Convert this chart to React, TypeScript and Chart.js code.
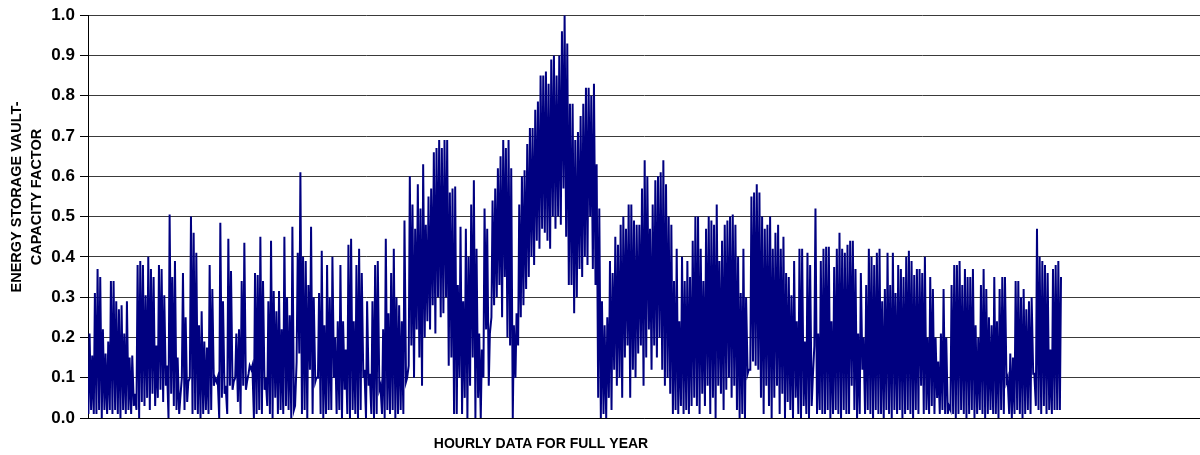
import { useEffect, useRef } from 'react';
import { Chart, registerables } from 'chart.js';

Chart.register(...registerables);

// Daily peak and overnight trough of the hourly capacity factor,
// grouped in ~46-day blocks through the year.
const peaksA = [0.21,0.155,0.31,0.37,0.35,0.22,0.16,0.19,0.34,0.34,0.29,0.27,0.28,0.21,0.29,0.15,0.155,0.06,0.38,0.39,0.38,0.305,0.40,0.37,0.35,0.18,0.38,0.37,0.305,0.13,0.505,0.35,0.39,0.15,0.05,0.36,0.25,0.09,0.50,0.46,0.41,0.23,0.265,0.19,0.175];
const troughsA = [0.01,0.02,0.01,0.01,0.02,0.0,0.02,0.01,0.02,0.01,0.02,0.01,0.0,0.02,0.01,0.02,0.01,0.03,0.02,0.0,0.04,0.03,0.05,0.02,0.06,0.03,0.05,0.07,0.04,0.08,0.0,0.06,0.03,0.02,0.01,0.10,0.02,0.04,0.1,0.01,0.02,0.01,0.0,0.01,0.02];

const peaksB = [0.38,0.32,0.10,0.10,0.485,0.29,0.08,0.445,0.365,0.09,0.21,0.22,0.34,0.435,0.09,0.13,0.13,0.36,0.355,0.45,0.34,0.10,0.29,0.44,0.315,0.265,0.315,0.22,0.45,0.30,0.255,0.475,0.03,0.41,0.61,0.40,0.39,0.33,0.475,0.30,0.10,0.31,0.415,0.23,0.38,0.30];
const troughsB = [0.01,0.02,0.08,0.09,0.0,0.05,0.06,0.01,0.08,0.07,0.10,0.04,0.01,0.08,0.07,0.11,0.12,0.0,0.01,0.02,0.01,0.07,0.03,0.01,0.0,0.05,0.01,0.02,0.01,0.03,0.02,0.0,0.02,0.14,0.16,0.01,0.02,0.0,0.12,0.01,0.09,0.10,0.01,0.0,0.01,0.02];

const peaksC = [0.40,0.20,0.24,0.38,0.24,0.17,0.43,0.445,0.24,0.38,0.42,0.36,0.12,0.29,0.11,0.29,0.38,0.39,0.08,0.22,0.445,0.26,0.36,0.42,0.30,0.28,0.24,0.49,0.10,0.60,0.53,0.47,0.58,0.52,0.63,0.48,0.55,0.57,0.66,0.67,0.69,0.67,0.69,0.69,0.56];
const troughsC = [0.02,0.10,0.01,0.02,0.0,0.07,0.01,0.0,0.02,0.01,0.0,0.02,0.10,0.0,0.08,0.01,0.0,0.01,0.07,0.01,0.0,0.02,0.01,0.02,0.0,0.01,0.02,0.01,0.09,0.13,0.18,0.10,0.22,0.15,0.08,0.20,0.24,0.22,0.28,0.21,0.30,0.25,0.26,0.30,0.13];

const peaksD = [0.57,0.575,0.33,0.475,0.29,0.47,0.40,0.53,0.59,0.42,0.21,0.17,0.52,0.47,0.21,0.54,0.57,0.62,0.65,0.69,0.67,0.69,0.62,0.23,0.26,0.53,0.60,0.615,0.68,0.72,0.72,0.765,0.786,0.85,0.85,0.86,0.83,0.89,0.90,0.85,0.90,0.96,1.0,0.93,0.78];
const troughsD = [0.15,0.01,0.01,0.10,0.01,0.05,0.0,0.08,0.15,0.0,0.05,0.0,0.10,0.22,0.08,0.25,0.28,0.30,0.33,0.25,0.35,0.20,0.18,0.0,0.10,0.18,0.25,0.28,0.32,0.35,0.40,0.38,0.44,0.42,0.47,0.46,0.44,0.42,0.50,0.47,0.50,0.48,0.57,0.45,0.33];

const peaksE = [0.78,0.69,0.71,0.75,0.78,0.82,0.82,0.80,0.83,0.63,0.52,0.29,0.23,0.25,0.39,0.36,0.45,0.43,0.48,0.50,0.47,0.53,0.53,0.49,0.48,0.48,0.57,0.64,0.60,0.47,0.53,0.59,0.60,0.61,0.64,0.58,0.50,0.48,0.34,0.42,0.24,0.40,0.34,0.39,0.35,0.44];
const troughsE = [0.33,0.26,0.30,0.37,0.35,0.40,0.38,0.50,0.37,0.33,0.05,0.0,0.01,0.0,0.05,0.02,0.12,0.08,0.10,0.05,0.15,0.18,0.05,0.12,0.10,0.16,0.18,0.08,0.15,0.22,0.12,0.18,0.15,0.20,0.12,0.08,0.10,0.06,0.01,0.02,0.01,0.03,0.01,0.02,0.01,0.03];

const peaksF = [0.50,0.50,0.42,0.34,0.47,0.50,0.49,0.48,0.53,0.39,0.44,0.48,0.49,0.50,0.505,0.48,0.40,0.31,0.42,0.30,0.12,0.55,0.56,0.58,0.56,0.50,0.47,0.48,0.50,0.42,0.46,0.48,0.42,0.45,0.36,0.35,0.305,0.39,0.24,0.42,0.42,0.19,0.41,0.38,0.10];
const troughsF = [0.05,0.03,0.01,0.06,0.03,0.08,0.01,0.05,0.0,0.08,0.06,0.02,0.07,0.1,0.05,0.08,0.02,0.0,0.01,0.0,0.11,0.12,0.14,0.13,0.12,0.05,0.01,0.08,0.03,0.0,0.05,0.08,0.01,0.06,0.0,0.04,0.02,0.0,0.05,0.01,0.0,0.03,0.01,0.0,0.03];

const peaksG = [0.52,0.21,0.39,0.42,0.425,0.425,0.24,0.375,0.42,0.46,0.42,0.41,0.43,0.44,0.44,0.37,0.21,0.36,0.20,0.33,0.42,0.40,0.38,0.41,0.42,0.29,0.32,0.41,0.33,0.41,0.31,0.38,0.37,0.35,0.40,0.415,0.39,0.355,0.37,0.37,0.36,0.40,0.20,0.35,0.32,0.20];
const troughsG = [0.18,0.01,0.02,0.01,0.01,0.02,0.0,0.01,0.02,0.01,0.0,0.02,0.01,0.01,0.08,0.02,0.0,0.01,0.12,0.01,0.02,0.01,0.0,0.02,0.01,0.01,0.0,0.02,0.01,0.0,0.02,0.01,0.02,0.0,0.01,0.02,0.01,0.0,0.02,0.01,0.08,0.01,0.02,0.01,0.03,0.01];

const peaksH = [0.14,0.21,0.32,0.20,0.03,0.33,0.38,0.38,0.39,0.33,0.37,0.35,0.35,0.37,0.23,0.20,0.33,0.37,0.32,0.25,0.23,0.35,0.24,0.32,0.35,0.35,0.10,0.16,0.15,0.34,0.34,0.30,0.32,0.27,0.29,0.30,0.11,0.47,0.40,0.39,0.38,0.36,0.17,0.37,0.38,0.39,0.35];
const troughsH = [0.05,0.01,0.02,0.01,0.01,0.02,0.01,0.0,0.01,0.02,0.01,0.0,0.01,0.02,0.0,0.01,0.02,0.01,0.0,0.01,0.02,0.01,0.01,0.0,0.02,0.01,0.09,0.01,0.0,0.01,0.02,0.01,0.0,0.01,0.02,0.01,0.11,0.03,0.02,0.01,0.03,0.01,0.02,0.01,0.02,0.02,0.02];

const yTicks = [0, 0.1, 0.2, 0.3, 0.4, 0.5, 0.6, 0.7, 0.8, 0.9, 1.0];
const yTitleLines = ['ENERGY STORAGE VAULT-', 'CAPACITY FACTOR'];
const xTitle = 'HOURLY DATA FOR FULL YEAR';

const HOURS_PER_DAY = 24;
const TROUGH_HOUR = 4;
const PEAK_HOUR = 14;
const X_AXIS_MAX = 10000;

const dailyPeaks = [...peaksA, ...peaksB, ...peaksC, ...peaksD, ...peaksE, ...peaksF, ...peaksG, ...peaksH];
const dailyTroughs = [...troughsA, ...troughsB, ...troughsC, ...troughsD, ...troughsE, ...troughsF, ...troughsG, ...troughsH];

const points: { x: number; y: number }[] = [];
dailyPeaks.forEach((p, d) => {
  points.push({ x: d * HOURS_PER_DAY + TROUGH_HOUR, y: dailyTroughs[d] });
  points.push({ x: d * HOURS_PER_DAY + PEAK_HOUR, y: p });
});

const FONT = '"Liberation Sans", Arial, sans-serif';

const titlesPlugin = {
  id: 'titles',
  afterDraw(chart: any) {
    const { ctx, chartArea } = chart;
    ctx.save();
    ctx.fillStyle = '#000';
    ctx.textAlign = 'center';
    ctx.textBaseline = 'middle';
    ctx.save();
    ctx.font = `bold 14.5px ${FONT}`;
    ctx.translate(17, 197);
    ctx.rotate(-Math.PI / 2);
    ctx.fillText(yTitleLines[0], 0, 0);
    ctx.fillText(yTitleLines[1], 0, 20);
    ctx.restore();
    ctx.font = `bold 14px ${FONT}`;
    ctx.fillText(xTitle, 541, chartArea.bottom + 26);
    ctx.restore();
  },
};

export default function App() {
  const ref = useRef<HTMLCanvasElement>(null);
  useEffect(() => {
    const chart = new Chart(ref.current as HTMLCanvasElement, {
      type: 'line',
      data: {
        datasets: [
          {
            data: points,
            borderColor: '#000080',
            borderWidth: 2,
            pointRadius: 0,
            tension: 0,
            fill: false,
          },
        ],
      },
      options: {
        animation: false,
        responsive: false,
        devicePixelRatio: 1,
        parsing: false,
        layout: { padding: { top: 15, right: 0, bottom: 37, left: 0 } },
        plugins: { legend: { display: false }, tooltip: { enabled: false } },
        scales: {
          x: {
            type: 'linear',
            min: 0,
            max: X_AXIS_MAX,
            ticks: { display: false },
            grid: { display: false, drawTicks: false },
            border: { display: true, color: '#000', width: 1 },
            afterFit: (s: any) => {
              s.height = 0;
            },
          },
          y: {
            min: 0,
            max: 1,
            afterBuildTicks: (s: any) => {
              s.ticks = yTicks.map((v) => ({ value: v }));
            },
            ticks: {
              callback: (v: any) => Number(v).toFixed(1),
              color: '#000',
              font: { family: FONT, size: 17, weight: 'bold' },
              padding: 5,
            },
            grid: { color: '#3a3a3a', tickColor: '#000', tickLength: 8, lineWidth: 1 },
            border: { color: '#000', width: 1 },
            afterFit: (s: any) => {
              s.width = 88;
            },
          },
        },
      } as any,
      plugins: [titlesPlugin],
    });
    return () => chart.destroy();
  }, []);
  return (
    <div style={{ position: 'absolute', left: 0, top: 0, width: 1200, height: 455, background: '#fff' }}>
      <canvas ref={ref} width={1200} height={455} />
    </div>
  );
}
